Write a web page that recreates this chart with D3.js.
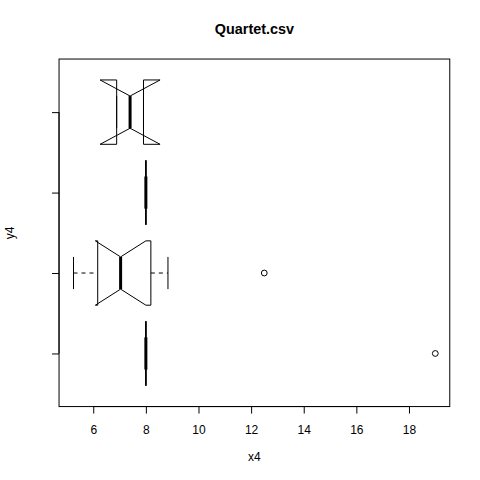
<!DOCTYPE html>
<html><head><meta charset="utf-8">
<script src="https://cdn.jsdelivr.net/npm/d3@7"></script>
<style>body{margin:0;background:#fff}svg{display:block}text{font-family:"Liberation Sans",Arial,Helvetica,sans-serif;fill:#000}</style>
</head><body>
<script>
// Data (boxplot statistics per group)
const groups     = [1, 2, 3, 4];
const whiskerLo  = [8, 5.25, 8, 6.89];
const hingeLo    = [8, 6.17, 8, 6.89];
const medians    = [8, 7.04, 8, 7.40];
const hingeHi    = [8, 8.19, 8, 7.91];
const whiskerHi  = [8, 8.84, 8, 7.91];
const notchLo    = [8, 6.08, 8, 6.26];
const notchHi    = [8, 8.00, 8, 8.54];
const outliers   = [[19], [12.5], [], []];
const xTicks     = [6, 8, 10, 12, 14, 16, 18];
const title = "Quartet.csv", xLabel = "x4", yLabel = "y4";

const W = 480, H = 480;
const L = 59.04, R = 449.76, T = 59.04, B = 406.56;
const svg = d3.select("body").append("svg").attr("width", W).attr("height", H);

const x = d3.scaleLinear().domain([4.7, 19.55]).range([L, R]);
const y = d3.scaleLinear().domain([0.34, 4.66]).range([B, T]);

const wid = 0.4, wntch = 0.2, staple = 0.2;

const g = svg.append("g");
groups.forEach((grp, i) => {
  const pts = [
    [hingeLo[i], grp - wid], [notchLo[i], grp - wid], [medians[i], grp - wntch],
    [notchHi[i], grp - wid], [hingeHi[i], grp - wid], [hingeHi[i], grp + wid],
    [notchHi[i], grp + wid], [medians[i], grp + wntch], [notchLo[i], grp + wid],
    [hingeLo[i], grp + wid]
  ];
  // whiskers
  [[whiskerLo[i], hingeLo[i]], [hingeHi[i], whiskerHi[i]]].forEach(([a, b]) => {
    if (a !== b) g.append("line").attr("x1", x(a)).attr("x2", x(b))
      .attr("y1", y(grp)).attr("y2", y(grp))
      .attr("stroke", "#000").attr("stroke-dasharray", "4,4");
  });
  // staples
  [whiskerLo[i], whiskerHi[i]].forEach(v => {
    g.append("line").attr("x1", x(v)).attr("x2", x(v))
      .attr("y1", y(grp - staple)).attr("y2", y(grp + staple)).attr("stroke", "#000");
  });
  // notched box
  g.append("path").attr("d", d3.line().x(d => x(d[0])).y(d => y(d[1]))(pts) + "Z")
    .attr("fill", "none").attr("stroke", "#000");
  // median
  g.append("line").attr("x1", x(medians[i])).attr("x2", x(medians[i]))
    .attr("y1", y(grp - wntch)).attr("y2", y(grp + wntch))
    .attr("stroke", "#000").attr("stroke-width", 3);
  // outliers
  outliers[i].forEach(v => {
    g.append("circle").attr("cx", x(v)).attr("cy", y(grp)).attr("r", 2.9)
      .attr("fill", "none").attr("stroke", "#000");
  });
});

// frame
svg.append("rect").attr("x", L).attr("y", T).attr("width", R - L).attr("height", B - T)
  .attr("fill", "none").attr("stroke", "#000");

// x axis
const xa = svg.append("g").attr("transform", `translate(0,${B})`)
  .call(d3.axisBottom(x).tickValues(xTicks).tickSize(7).tickPadding(12).tickFormat(d3.format("d")));
xa.select(".domain").attr("d", `M${x(6)},0H${x(18)}`);
xa.selectAll("text").attr("font-size", 12).attr("fill", "#000")
  .attr("font-family", "Liberation Sans, Arial, sans-serif");
xa.selectAll("line,path").attr("stroke", "#000");

// y axis (ticks only, no labels)
const ya = svg.append("g").attr("transform", `translate(${L},0)`)
  .call(d3.axisLeft(y).tickValues(groups).tickSize(7).tickFormat(""));
ya.select(".domain").attr("d", `M0,${y(1)}V${y(4)}`);
ya.selectAll("line,path").attr("stroke", "#000");

// titles
svg.append("text").attr("x", (L + R) / 2).attr("y", 34).attr("text-anchor", "middle")
  .attr("font-size", 14.4).attr("font-weight", "bold").text(title);
svg.append("text").attr("x", (L + R) / 2).attr("y", 461).attr("text-anchor", "middle")
  .attr("font-size", 12).text(xLabel);
svg.append("text").attr("transform", `translate(14,${(T + B) / 2}) rotate(-90)`)
  .attr("text-anchor", "middle").attr("font-size", 12).text(yLabel);
</script>
</body></html>
